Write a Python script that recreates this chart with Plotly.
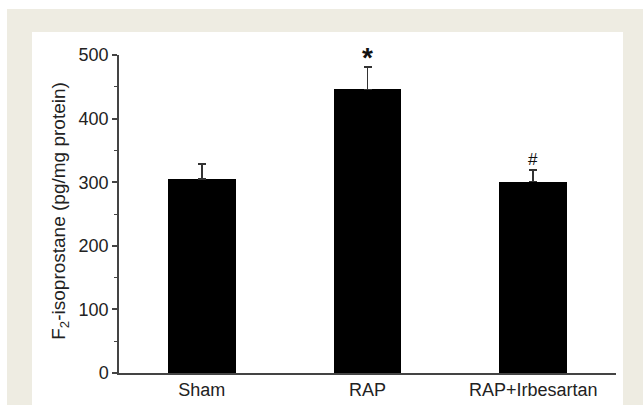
import plotly.graph_objects as go

categories = ["Sham", "RAP", "RAP+Irbesartan"]
means = [305, 446, 301]
sem_upper = [24, 35, 18]
markers = ["", "*", "#"]
y_ticks = [0, 100, 200, 300, 400, 500]

W, H = 643, 405
L, R, T, B = 119, 27, 55, 32
pw, ph = W - L - R, H - T - B

def px_x(p):
    return (p - L) / pw

def px_y(p):
    return (H - B - p) / ph

FONT = "Liberation Sans, Arial, Helvetica, sans-serif"
TXT = "#222222"

fig = go.Figure()
fig.add_trace(go.Bar(
    x=categories, y=means, width=0.41,
    marker=dict(color="black", line=dict(width=0)),
    error_y=dict(type="data", symmetric=False, array=sem_upper,
                 arrayminus=[0] * len(means), color="#333333",
                 thickness=1.5, width=4),
    showlegend=False,
))

for c, m, e, s in zip(categories, means, sem_upper, markers):
    if not s:
        continue
    big = s == "*"
    fig.add_annotation(x=c, y=m + e, text=f"<b>{s}</b>" if big else s, showarrow=False,
                       yanchor="bottom", yshift=-8 if big else -1,
                       font=dict(size=28 if big else 17, color="#111111",
                                 family=FONT))

fig.add_annotation(xref="paper", yref="paper", x=px_x(46), y=0.51,
                   text="F<sub>2</sub>-isoprostane (pg/mg protein)",
                   textangle=-90, showarrow=False,
                   font=dict(size=19, color=TXT, family=FONT))

shapes = [
    dict(type="rect", xref="paper", yref="paper", layer="below",
         x0=px_x(7), x1=px_x(643), y0=px_y(405), y1=px_y(9),
         fillcolor="rgb(238,236,226)", line=dict(width=0)),
    dict(type="rect", xref="paper", yref="paper", layer="below",
         x0=px_x(32), x1=px_x(623), y0=px_y(405), y1=px_y(32),
         fillcolor="white", line=dict(width=0)),
]

fig.update_layout(
    width=W, height=H,
    margin=dict(l=L, r=R, t=T, b=B, pad=0, autoexpand=False),
    paper_bgcolor="white", plot_bgcolor="rgba(0,0,0,0)",
    font=dict(family=FONT, size=18, color=TXT),
    shapes=shapes,
    bargap=0,
)
fig.update_xaxes(range=[-0.5, 2.5], showline=True, linecolor="#444444", linewidth=1.5,
                 ticks="", showgrid=False, zeroline=False, automargin=False,
                 tickfont=dict(size=18, color=TXT, family=FONT))
fig.update_yaxes(range=[0, 500], tickvals=y_ticks, showline=True, linecolor="#444444",
                 linewidth=1.5, ticks="outside", ticklen=5, tickwidth=1.5,
                 tickcolor="#444444", showgrid=False, zeroline=False, automargin=False,
                 tickfont=dict(size=18, color=TXT, family=FONT),
                 minor=dict(ticks="outside", ticklen=3, tickwidth=1.2,
                            tickcolor="#444444", dtick=50, tick0=0, showgrid=False))

fig.write_html("out.html", config={"displayModeBar": False},
               post_script="document.body.style.margin='0';document.body.style.overflow='hidden';")
